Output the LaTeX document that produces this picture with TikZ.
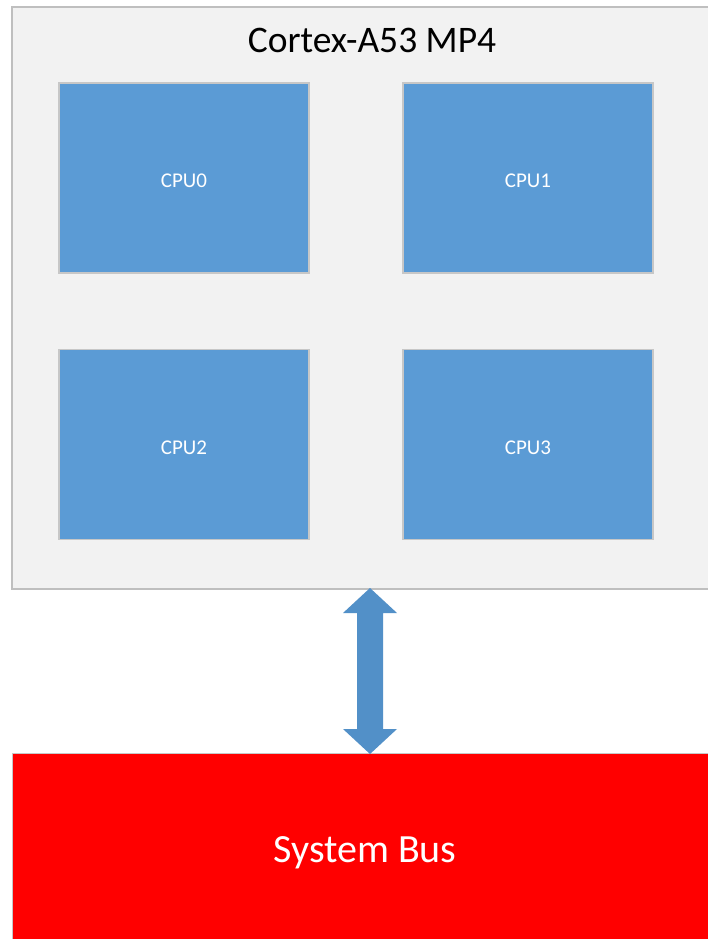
\documentclass[tikz,border=0pt]{standalone}
\usepackage{fontspec}
\setmainfont{Carlito}
\newcommand{\cpulbl}[1]{\raisebox{-9.5pt}[0pt][0pt]{#1}}
\begin{document}
\begin{tikzpicture}[x=1pt,y=-1pt,
  cpubox/.style={draw=black!22,line width=1.2pt,fill=cpublue,minimum width=250pt,minimum height=190pt,inner sep=0pt,text=white,font=\fontsize{21}{24}\selectfont},
  ]
\definecolor{cpublue}{HTML}{5B9BD5}
\definecolor{arrowblue}{HTML}{5290C8}
\definecolor{panel}{HTML}{F2F2F2}
\useasboundingbox (0,0) rectangle (707,939);
\fill[white] (0,0) rectangle (707,939);
% outer cluster
\draw[draw=black!25,line width=1.2pt,fill=panel] (12,7) rectangle (712,589);
\node[font=\fontsize{37.5}{40}\selectfont] (title) at (372,40) {Cortex-A53 MP4};
\node[cpubox] (cpu0) at (184,178) {\cpulbl{CPU0}};
\node[cpubox] (cpu1) at (528,178) {\cpulbl{CPU1}};
\node[cpubox] (cpu2) at (184,444.5) {\cpulbl{CPU2}};
\node[cpubox] (cpu3) at (528,444.5) {\cpulbl{CPU3}};
% system bus
\node[draw=black!22,line width=1.2pt,fill=red,anchor=north west,minimum width=710pt,minimum height=200pt,inner sep=0pt] (bus) at (12,753) {};
\node[text=white,font=\fontsize{40}{44}\selectfont] (buslabel) at (365,853) {System Bus};
% double arrow
\coordinate (atop) at (370,588);
\coordinate (abot) at (370,754);
\fill[arrowblue] (atop) -- (397,613) -- (383,613) -- (383,729) -- (397,729) -- (abot)
  -- (343,729) -- (357,729) -- (357,613) -- (343,613) -- cycle;
\end{tikzpicture}
\end{document}
